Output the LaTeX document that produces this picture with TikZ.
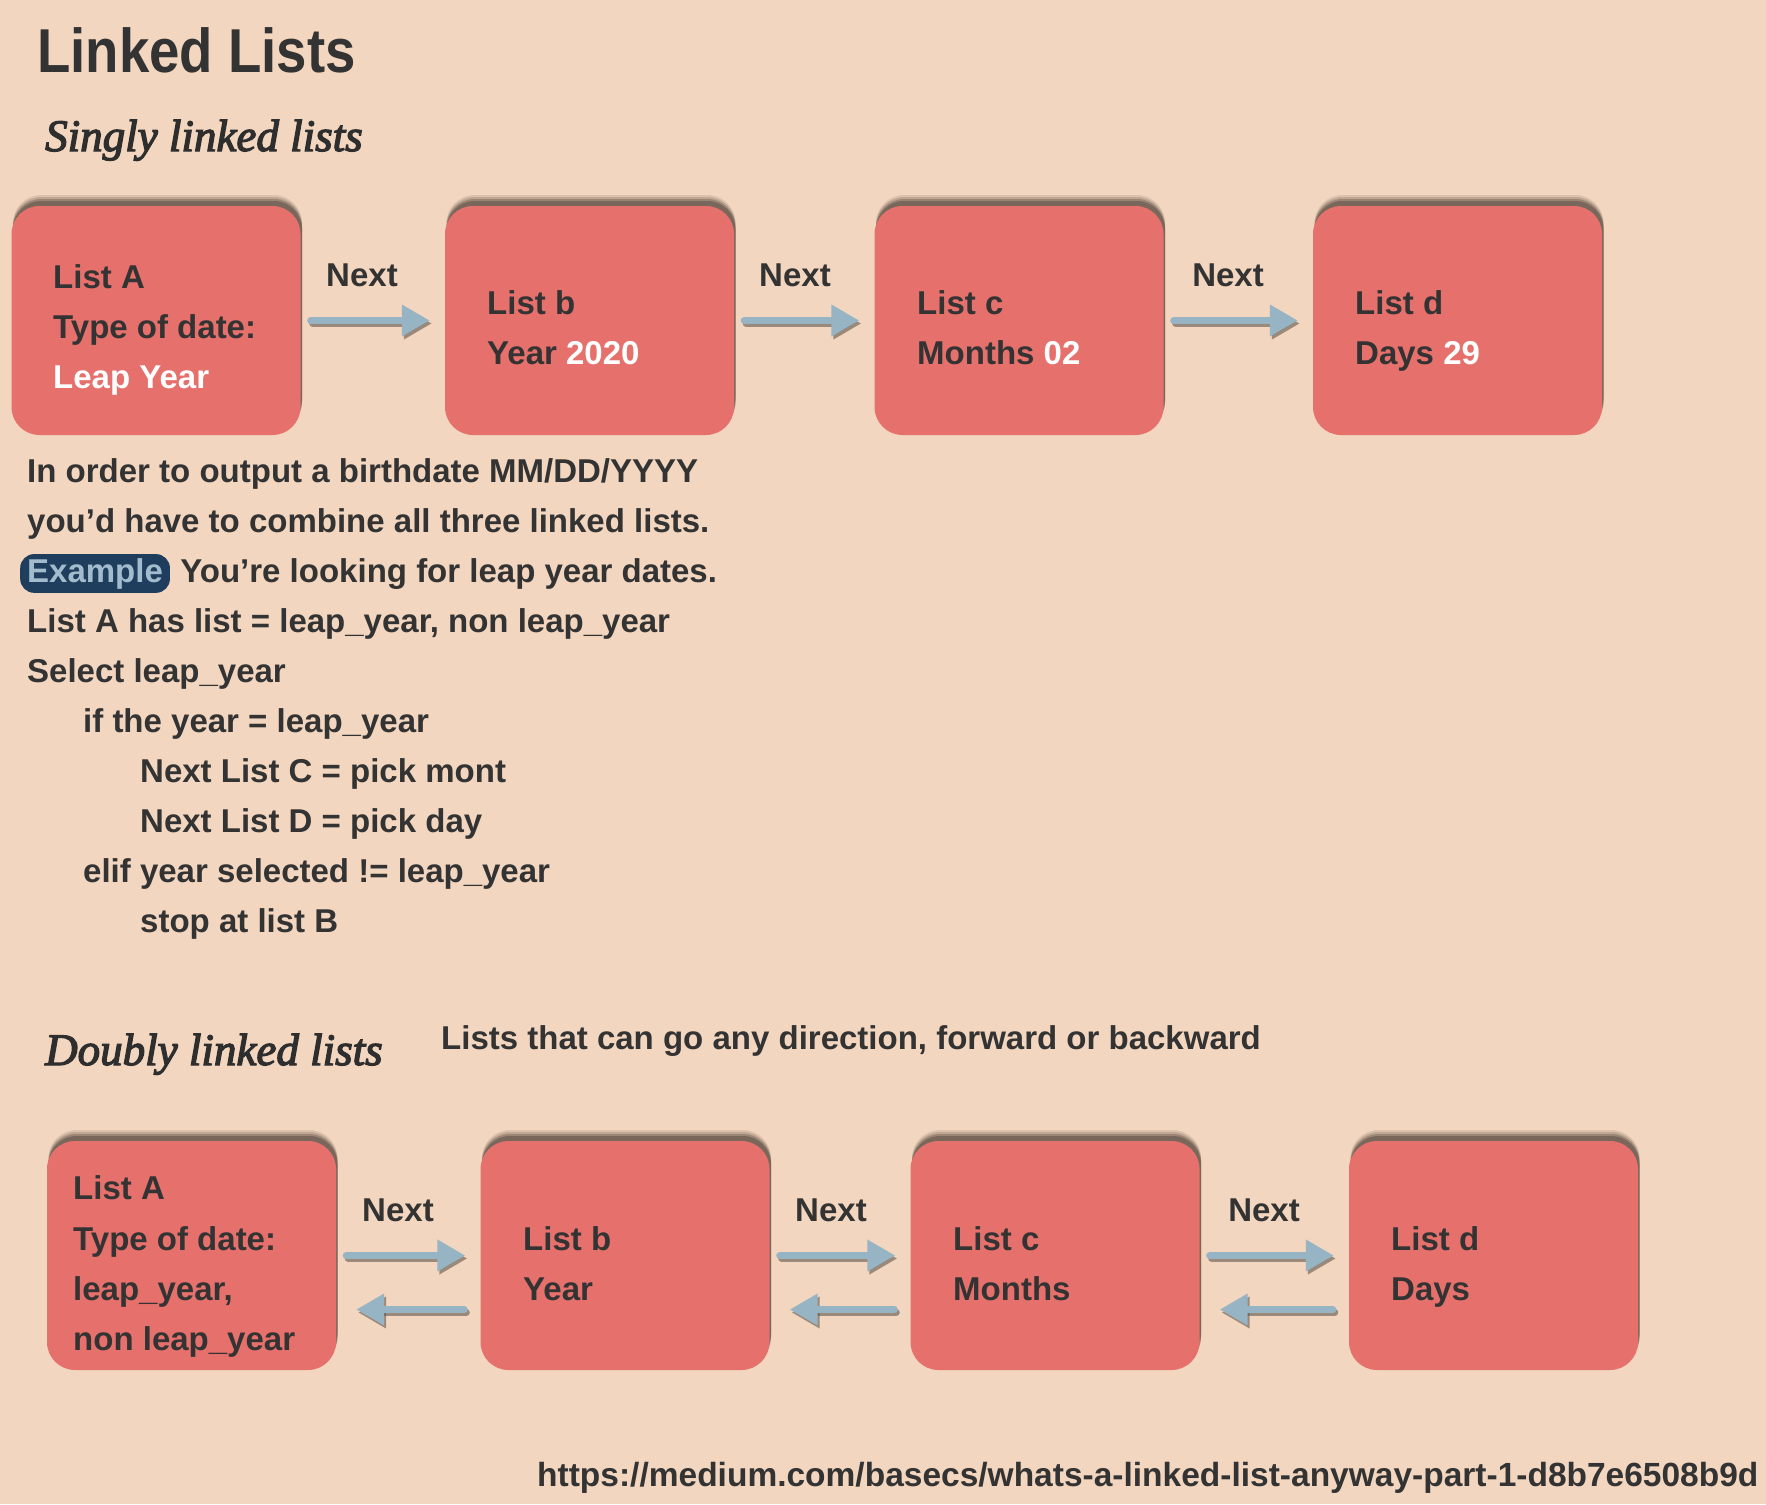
\documentclass[tikz,border=0pt]{standalone}
\usepackage{fontspec}
\setmainfont{Liberation Sans}
\newfontfamily\titlefont{Liberation Sans}[FakeStretch=0.88]
\newfontfamily\headfont{Liberation Serif}[ItalicFeatures={FakeBold=2.8}]
\usetikzlibrary{arrows.meta,shadows}
\definecolor{bgc}{HTML}{F2D6BF}
\definecolor{boxc}{HTML}{E6706B}
\definecolor{txtc}{HTML}{333333}
\definecolor{arrc}{HTML}{97B4C5}
\definecolor{shc}{HTML}{4A3A33}
\definecolor{navyc}{HTML}{1F3D5C}
\definecolor{extc}{HTML}{A2BCCD}
\begin{document}
\begin{tikzpicture}[x=1pt,y=-1pt,
  txt/.style={anchor=base west, inner sep=0pt, text=txtc, font=\bfseries\fontsize{33}{40}\selectfont},
  wtxt/.style={txt, text=white},
  lbl/.style={txt, anchor=base},
  head/.style={anchor=base west, inner sep=0pt, text=txtc!90!black, font=\headfont\itshape\fontsize{45}{50}\selectfont},
  box/.style={fill=boxc, rounded corners=28pt, minimum width=289pt, minimum height=229pt, inner sep=0pt,
    general shadow={shadow xshift=1.5pt, shadow yshift=11pt, fill=shc, opacity=0.12},
    general shadow={shadow xshift=1.5pt, shadow yshift=9pt, fill=shc, opacity=0.2},
    general shadow={shadow xshift=1.5pt, shadow yshift=7pt, fill=shc, opacity=0.3},
    general shadow={shadow xshift=1.5pt, shadow yshift=5pt, fill=shc, opacity=0.4}},
  arr/.style={draw=arrc, line width=7pt, line cap=round, -{Triangle[length=28pt,width=30pt]}, shorten <=10pt, shorten >=15pt},
  arrsh/.style={arr, draw=black!60!bgc, opacity=0.6, transform canvas={shift={(2pt,-3pt)}}},
  barr/.style={arr, shorten <=16pt, shorten >=20pt},
  barrsh/.style={barr, draw=black!60!bgc, opacity=0.6, transform canvas={shift={(2pt,-3pt)}}}
]
\fill[bgc] (0,0) rectangle (1766,1504);
\useasboundingbox (0,0) rectangle (1766,1504);

% title and headings
\node[anchor=base west, inner sep=0pt, text=txtc, font=\titlefont\bfseries\fontsize{62}{70}\selectfont] (title) at (37,73) {Linked Lists};
\node[head] (h1) at (45,151) {Singly linked lists};
\node[head] (h2) at (45,1065) {Doubly linked lists};
\node[txt] (desc) at (441,1049) {Lists that can go any direction, forward or backward};

% singly linked boxes
\node[box] (a1) at (156,320.5) {};
\node[box] (b1) at (589.5,320.5) {};
\node[box] (c1) at (1019,320.5) {};
\node[box] (d1) at (1457.5,320.5) {};

\node[txt] (a1l1) at (53,288) {List A};
\node[txt] (a1l2) at (53,338) {Type of date:};
\node[wtxt] (a1l3) at (53,388) {Leap Year};
\node[txt] (b1l1) at (487,314) {List b};
\node[txt] (b1l2) at (487,364) {Year \textcolor{white}{2020}};
\node[txt] (c1l1) at (917,314) {List c};
\node[txt] (c1l2) at (917,364) {Months \textcolor{white}{02}};
\node[txt] (d1l1) at (1355,314) {List d};
\node[txt] (d1l2) at (1355,364) {Days \textcolor{white}{29}};

\node[lbl] (n1) at (362,286) {Next};
\node[lbl] (n2) at (795,286) {Next};
\node[lbl] (n3) at (1228,286) {Next};

% paragraph
\node[txt] (p1) at (27,482) {In order to output a birthdate MM/DD/YYYY};
\node[txt] (p2) at (27,532) {you’d have to combine all three linked lists.};
\node[txt, fill=navyc, text=extc, rounded corners=14pt, inner xsep=7pt, inner ysep=4pt] (ex) at (20,582) {Example};
\node[txt] (p3) at ([xshift=10pt]ex.base east) {You’re looking for leap year dates.};
\node[txt] (p4) at (27,632) {List A has list = leap\_year, non leap\_year};
\node[txt] (p5) at (27,682) {Select leap\_year};
\node[txt] (p6) at (83,732) {if the year = leap\_year};
\node[txt] (p7) at (140,782) {Next List C = pick mont};
\node[txt] (p8) at (140,832) {Next List D = pick day};
\node[txt] (p9) at (83,882) {elif year selected != leap\_year};
\node[txt] (p10) at (140,932) {stop at list B};

% doubly linked boxes
\node[box] (a2) at (191.5,1255.5) {};
\node[box] (b2) at (625,1255.5) {};
\node[box] (c2) at (1055,1255.5) {};
\node[box] (d2) at (1493.5,1255.5) {};

\node[txt] (a2l1) at (73,1199) {List A};
\node[txt] (a2l2) at (73,1250) {Type of date:};
\node[txt] (a2l3) at (73,1300) {leap\_year,};
\node[txt] (a2l4) at (73,1350) {non leap\_year};
\node[txt] (b2l1) at (523,1250) {List b};
\node[txt] (b2l2) at (523,1300) {Year};
\node[txt] (c2l1) at (953,1250) {List c};
\node[txt] (c2l2) at (953,1300) {Months};
\node[txt] (d2l1) at (1391,1250) {List d};
\node[txt] (d2l2) at (1391,1300) {Days};

\node[lbl] (n4) at (398,1221) {Next};
\node[lbl] (n5) at (831,1221) {Next};
\node[lbl] (n6) at (1264,1221) {Next};

% connectors
\foreach \s/\t in {a1/b1,b1/c1,c1/d1,a2/b2,b2/c2,c2/d2}{
  \draw[arrsh] (\s) -- (\t);
  \draw[arr] (\s) -- (\t);
}
\foreach \s/\t in {a2/b2,b2/c2,c2/d2}{
  \draw[barrsh] ([yshift=-54pt]\t.west) -- ([yshift=-54pt]\s.east);
  \draw[barr] ([yshift=-54pt]\t.west) -- ([yshift=-54pt]\s.east);
}

\node[txt, font=\bfseries\fontsize{33.5}{40}\selectfont] (url) at (537,1486) {https://medium.com/basecs/whats-a-linked-list-anyway-part-1-d8b7e6508b9d};
\end{tikzpicture}
\end{document}
